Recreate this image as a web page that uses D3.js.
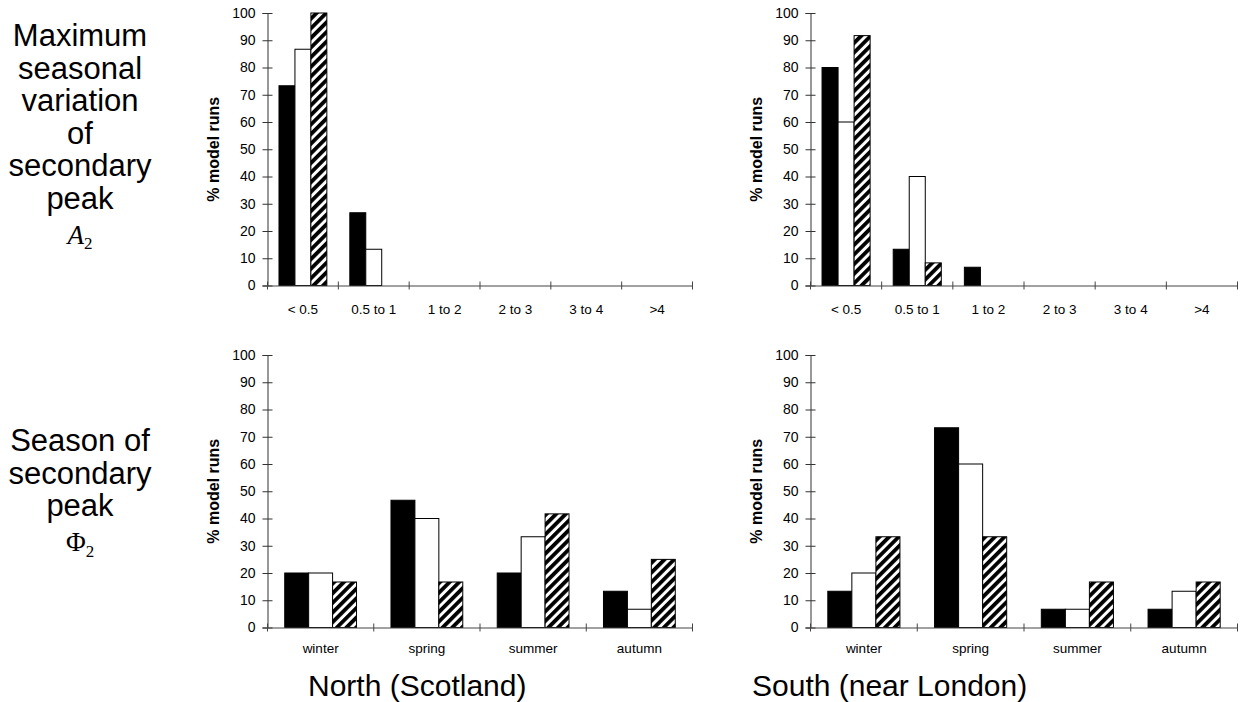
<!DOCTYPE html>
<html><head><meta charset="utf-8">
<script src="https://cdn.jsdelivr.net/npm/d3@7"></script>
<style>
body{margin:0;background:#fff}
svg{display:block}
text{font-family:"Liberation Sans",Arial,sans-serif;fill:#000}
</style>
</head><body>
<svg id="c" width="1244" height="702"></svg>
<script>
// ---------- data ----------
const ampCategories = ["< 0.5", "0.5 to 1", "1 to 2", "2 to 3", "3 to 4", ">4"];
const seasonCategories = ["winter", "spring", "summer", "autumn"];
const seriesKeys = ["solid", "open", "hatched"];
const yTicks = [0, 10, 20, 30, 40, 50, 60, 70, 80, 90, 100];

const northAmpSolid   = [73.3, 26.7, 0, 0, 0, 0];
const northAmpOpen    = [86.7, 13.3, 0, 0, 0, 0];
const northAmpHatched = [100, 0, 0, 0, 0, 0];

const southAmpSolid   = [80, 13.3, 6.7, 0, 0, 0];
const southAmpOpen    = [60, 40, 0, 0, 0, 0];
const southAmpHatched = [91.7, 8.3, 0, 0, 0, 0];

const northSeasonSolid   = [20, 46.7, 20, 13.3];
const northSeasonOpen    = [20, 40, 33.3, 6.7];
const northSeasonHatched = [16.7, 16.7, 41.7, 25];

const southSeasonSolid   = [13.3, 73.3, 6.7, 6.7];
const southSeasonOpen    = [20, 60, 6.7, 13.3];
const southSeasonHatched = [33.3, 33.3, 16.7, 16.7];

const yAxisTitle = "% model runs";
const columnTitles = ["North (Scotland)", "South (near London)"];
const rowLab1 = ["Maximum", "seasonal", "variation", "of", "secondary", "peak"];
const rowLab2 = ["Season of", "secondary", "peak"];

// ---------- drawing ----------
const FONT = "'Liberation Sans', Arial, sans-serif";
const SERIF = "'Liberation Serif', 'Times New Roman', serif";
const svg = d3.select("#c");
const defs = svg.append("defs");
const pat = defs.append("pattern")
  .attr("id", "hatch").attr("patternUnits", "userSpaceOnUse")
  .attr("width", 6.8).attr("height", 6.8)
  .attr("patternTransform", "rotate(45)");
pat.append("rect").attr("width", 6.8).attr("height", 6.8).attr("fill", "#fff");
pat.append("rect").attr("width", 3.8).attr("height", 6.8).attr("fill", "#000");

const fills = {solid: "#000", open: "#fff", hatched: "url(#hatch)"};

const panels = [
  {x0: 267.5, x1: 692.5, yb: 285.5, yt: 13, cats: ampCategories,
   vals: [northAmpSolid, northAmpOpen, northAmpHatched], titleX: 219, pad: 19},
  {x0: 810.5, x1: 1237.5, yb: 285.5, yt: 13, cats: ampCategories,
   vals: [southAmpSolid, southAmpOpen, southAmpHatched], titleX: 762, pad: 19},
  {x0: 267.5, x1: 692.5, yb: 627.5, yt: 355, cats: seasonCategories,
   vals: [northSeasonSolid, northSeasonOpen, northSeasonHatched], titleX: 219, pad: 16},
  {x0: 810.5, x1: 1237.5, yb: 627.5, yt: 355, cats: seasonCategories,
   vals: [southSeasonSolid, southSeasonOpen, southSeasonHatched], titleX: 762, pad: 16}
];

panels.forEach(p => {
  const g = svg.append("g");
  const x = d3.scaleBand().domain(p.cats).range([p.x0, p.x1]).paddingInner(0).paddingOuter(0);
  const xs = d3.scaleBand().domain(seriesKeys).range([0, x.bandwidth()]).paddingInner(0).paddingOuter(0.72);
  const y = d3.scaleLinear().domain([0, 100]).range([p.yb, p.yt]);

  // bars
  const rows = [];
  p.cats.forEach((c, i) => seriesKeys.forEach((k, j) => {
    const v = p.vals[j][i];
    if (v > 0) rows.push({c, k, v});
  }));
  g.selectAll("rect.bar").data(rows).join("rect")
    .attr("class", "bar")
    .attr("x", d => x(d.c) + xs(d.k))
    .attr("width", xs.bandwidth())
    .attr("y", d => y(d.v))
    .attr("height", d => y(0) - y(d.v))
    .attr("fill", d => fills[d.k])
    .attr("stroke", "#000").attr("stroke-width", 1);

  // y axis
  const ya = g.append("g").attr("transform", `translate(${p.x0},0)`)
    .call(d3.axisLeft(y).tickValues(yTicks).tickSize(5).tickPadding(7));
  ya.select(".domain").attr("stroke", "#333");
  ya.selectAll(".tick line").attr("x1", 5).attr("stroke", "#333");
  ya.selectAll(".tick text").attr("font-size", 14).style("font-family", FONT);

  // x axis (labels at band centres)
  const xa = g.append("g").attr("transform", `translate(0,${p.yb})`)
    .call(d3.axisBottom(x).tickSize(0).tickPadding(p.pad));
  xa.select(".domain").attr("stroke", "#444");
  xa.selectAll(".tick text").attr("font-size", 13.5).style("font-family", FONT);
  // boundary ticks
  const bounds = p.cats.map(c => x(c)).concat([x.range()[1]]);
  g.selectAll("line.bt").data(bounds).join("line")
    .attr("class", "bt")
    .attr("x1", d => d).attr("x2", d => d)
    .attr("y1", p.yb - 4).attr("y2", p.yb + 4)
    .attr("stroke", "#444");

  // y title
  g.append("text")
    .attr("transform", `translate(${p.titleX},${(p.yb + p.yt) / 2}) rotate(-90)`)
    .attr("text-anchor", "middle")
    .attr("font-size", 16).attr("font-weight", "bold")
    .style("font-family", FONT)
    .text(yAxisTitle);
});

// row labels
const lx = 80;
const t1 = svg.append("text").attr("text-anchor", "middle").attr("font-size", 31).style("font-family", FONT);
rowLab1.forEach((s, i) => t1.append("tspan").attr("x", lx).attr("y", 46 + i * 32.5).text(s));
const a2 = svg.append("text").attr("x", lx).attr("y", 244).attr("text-anchor", "middle")
  .style("font-family", SERIF);
a2.append("tspan").attr("font-size", 27).attr("font-style", "italic").text("A");
a2.append("tspan").attr("font-size", 17).attr("dy", 5).text("2");

const t2 = svg.append("text").attr("text-anchor", "middle").attr("font-size", 31).style("font-family", FONT);
rowLab2.forEach((s, i) => t2.append("tspan").attr("x", lx).attr("y", 451 + i * 32.5).text(s));
const f2 = svg.append("text").attr("x", lx).attr("y", 551).attr("text-anchor", "middle")
  .style("font-family", SERIF);
f2.append("tspan").attr("font-size", 27).text("Φ");
f2.append("tspan").attr("font-size", 17).attr("dy", 6).text("2");

// column titles
svg.append("text").attr("x", 308).attr("y", 696).attr("font-size", 30).style("font-family", FONT).text(columnTitles[0]);
svg.append("text").attr("x", 752).attr("y", 696).attr("font-size", 30).style("font-family", FONT).text(columnTitles[1]);
</script>
</body></html>
